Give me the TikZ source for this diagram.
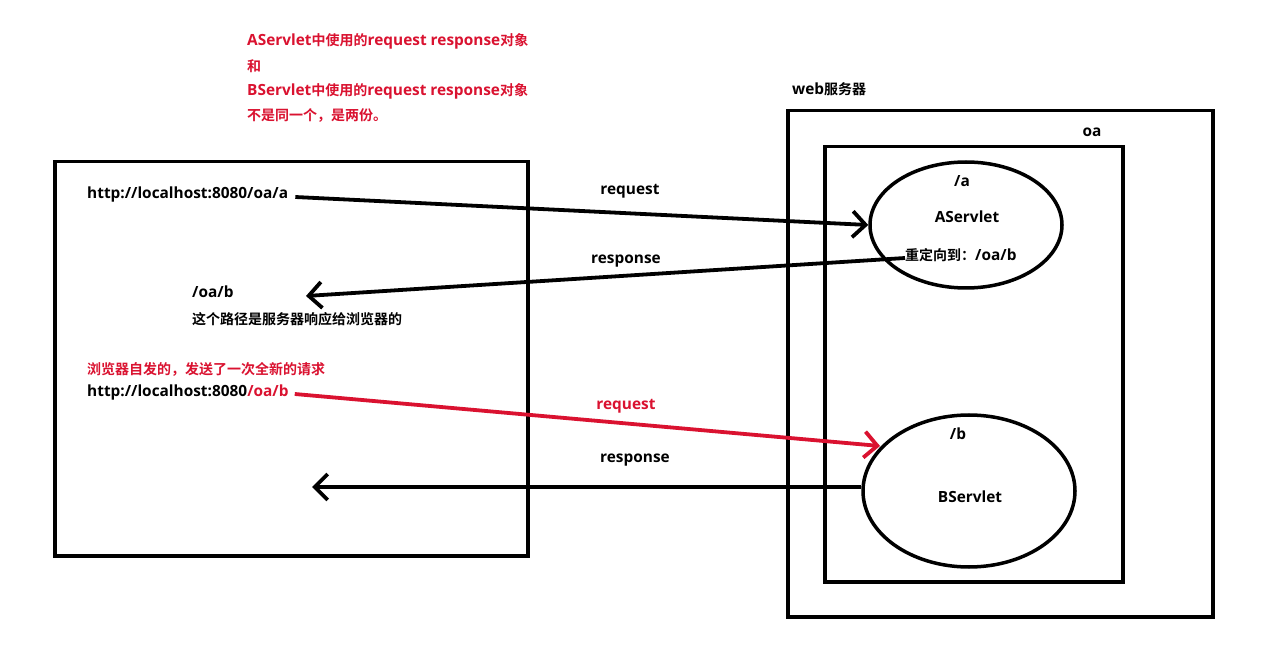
\documentclass[tikz,border=0pt]{standalone}
\usepackage{fontspec}
\setmainfont{Noto Sans CJK SC}[BoldFont={Noto Sans CJK SC Bold}]
\newfontfamily\latfont{Open Sans}[Scale=1.1]
\newcommand{\lat}[1]{{\latfont\bfseries #1}}
\usetikzlibrary{arrows.meta,shapes.geometric}
\definecolor{hlred}{RGB}{218,18,48}
\tikzset{
  box/.style={draw=black,line width=3.5pt},
  servlet/.style={draw=black,line width=3.5pt,ellipse,inner sep=0pt},
  txt/.style={inner sep=0pt,font=\bfseries\fontsize{14}{16}\selectfont},
  ltxt/.style={txt,anchor=west},
  redtxt/.style={ltxt,text=hlred},
  conn/.style={line width=3.8pt,-{Straight Barb[length=13pt,width=26pt,line width=3.8pt]}},
}
\begin{document}
\begin{tikzpicture}[x=1pt,y=-1pt]
\useasboundingbox[fill=white] (0,0) rectangle (1262,652);
% boxes
\node[box,minimum width=473pt,minimum height=394pt,anchor=north west,inner sep=0pt] (client) at (53,160) {};
\node[box,minimum width=425pt,minimum height=506pt,anchor=north west,inner sep=0pt] (web) at (786,109) {};
\node[box,minimum width=298pt,minimum height=435pt,anchor=north west,inner sep=0pt] (oa) at (823,145) {};
% servlets
\node[servlet,minimum width=192pt,minimum height=126pt] (ea) at (966,225) {};
\node[servlet,minimum width=212pt,minimum height=152pt] (eb) at (969,491) {};
% top note
\node[redtxt] (n1) at (247,41) {\lat{AServlet}中使用的\lat{request response}对象};
\node[redtxt] (n2) at (247,66) {和};
\node[redtxt] (n3) at (247,91) {\lat{BServlet}中使用的\lat{request response}对象};
\node[redtxt] (n4) at (247,116) {不是同一个，是两份。};
% server labels
\node[ltxt] (webl) at (792,89) {\lat{web}服务器};
\node[txt] (oal) at (1092,132) {\lat{oa}};
\node[txt] (pa) at (962,181) {\lat{/a}};
\node[txt] (as) at (967,217) {\lat{AServlet}};
\node[ltxt] (redir) at (905,255) {重定向到：\lat{/oa/b}};
\node[txt] (pb) at (958,434) {\lat{/b}};
\node[txt] (bs) at (970,497) {\lat{BServlet}};
% client labels
\node[ltxt] (urla) at (87,195) {\lat{http://localhost:8080/oa/a}};
\node[ltxt] (oab) at (192,292) {\lat{/oa/b}};
\node[ltxt] (expl) at (192,319) {这个路径是服务器响应给浏览器的};
\node[redtxt] (auto) at (87,369) {浏览器自发的，发送了一次全新的请求};
\node[ltxt] (urlb) at (87,393) {\lat{http://localhost:8080\textcolor{hlred}{/oa/b}}};
% connector labels
\node[txt] (req1) at (630,191) {\lat{request}};
\node[txt] (resp1) at (626,261) {\lat{response}};
\node[txt,text=hlred] (req2) at (626,406) {\lat{request}};
\node[txt] (resp2) at (635,460) {\lat{response}};
% connectors
\coordinate (r1s) at (905,258);
\coordinate (r1e) at (306,296);
\coordinate (q2e) at (880,446);
\coordinate (r2e) at (312,487);
\draw[conn] (urla.east) ++(7,2) -- (ea.west);
\draw[conn] (r1s) -- (r1e);
\draw[conn,draw=hlred] (urlb.east) ++(6,1) -- (q2e);
\draw[conn] (eb.west) ++(0,-4) -- (r2e);
\end{tikzpicture}
\end{document}
